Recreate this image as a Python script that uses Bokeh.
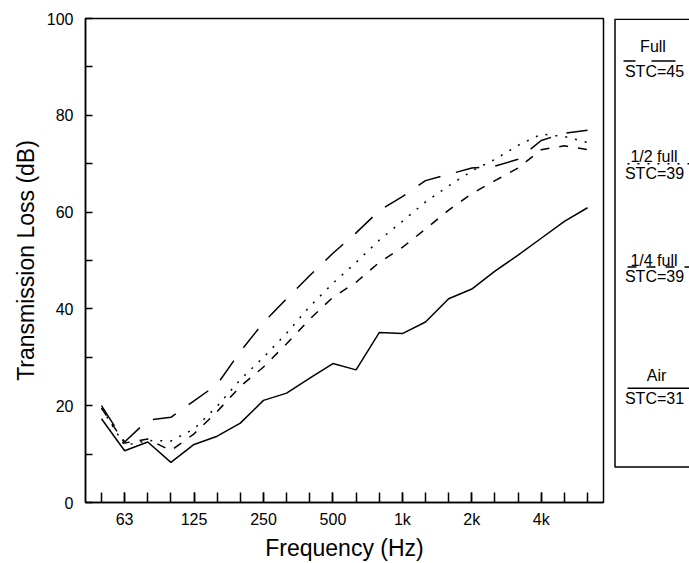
from bokeh.plotting import figure
from bokeh.models import Range1d, FixedTicker
from bokeh.layouts import row
from bokeh.embed import file_html
from bokeh.resources import INLINE
from bokeh.core.properties import value

# 1/3-octave band centre frequencies (Hz)
bands = ["50", "63", "80", "100", "125", "160", "200", "250", "315", "400", "500",
         "630", "800", "1k", "1.25k", "1.6k", "2k", "2.5k", "3.15k", "4k", "5k", "6.3k"]
labeled = ["63", "125", "250", "500", "1k", "2k", "4k"]

# Transmission loss (dB)
full = [20.0, 12.5, 17.0, 17.6, 21.0, 24.4, 31.2, 37.2, 42.1, 46.9, 51.5,
        55.7, 60.3, 63.2, 66.5, 67.8, 69.1, 69.5, 70.9, 74.8, 76.3, 76.9]
half = [19.5, 11.8, 12.8, 12.7, 15.2, 19.9, 25.4, 30.0, 35.0, 40.5, 45.3,
        49.6, 54.2, 58.1, 62.1, 65.4, 68.5, 70.9, 73.8, 76.1, 75.6, 74.4]
quarter = [19.5, 12.3, 13.1, 10.7, 14.2, 18.8, 24.0, 28.0, 32.8, 37.9, 42.4,
           45.5, 49.6, 52.7, 56.5, 60.4, 63.8, 66.5, 69.1, 72.9, 73.7, 72.9]
air = [17.3, 10.7, 12.5, 8.3, 12.0, 13.7, 16.4, 21.1, 22.6, 25.7, 28.7,
       27.4, 35.1, 34.9, 37.3, 42.1, 44.1, 47.8, 51.1, 54.6, 58.1, 60.9]

series_names = ["Full", "1/2 full", "1/4 full", "Air"]
stc_labels = ["STC=45", "STC=39", "STC=39", "STC=31"]

y_ticks = [0, 20, 40, 60, 80, 100]
y_minor = [10, 30, 50, 70, 90]

FONT = "Liberation Sans"
idx = list(range(len(bands)))

H = 563
TOP, BOTTOM = 18, 60

p = figure(width=608, height=H, output_backend="svg", toolbar_location=None,
           x_range=Range1d(-0.69, 21.69), y_range=Range1d(0, 100),
           min_border_left=85, min_border_right=5, min_border_top=TOP,
           min_border_bottom=BOTTOM)
p.grid.visible = False
p.outline_line_color = "black"
p.outline_line_width = 1.5
p.outline_line_alpha = 1.0

major_x = [i for i, b in enumerate(bands) if b in labeled]
p.xaxis.ticker = FixedTicker(ticks=major_x, minor_ticks=idx)
p.xaxis.major_label_overrides = {i: bands[i] for i in major_x}
p.xaxis.major_tick_in = 10
p.xaxis.major_tick_out = 0
p.xaxis.minor_tick_in = 10
p.xaxis.minor_tick_out = 0
p.xaxis.major_label_standoff = 8
p.xaxis.axis_label = "Frequency (Hz)"
p.xaxis.axis_label_standoff = 4

p.yaxis.ticker = FixedTicker(ticks=y_ticks, minor_ticks=y_minor)
p.yaxis.major_tick_in = 7
p.yaxis.major_tick_out = 0
p.yaxis.minor_tick_in = 7
p.yaxis.minor_tick_out = 0
p.yaxis.major_label_standoff = 12
p.yaxis.axis_label = "Transmission Loss (dB)"
p.yaxis.axis_label_standoff = 5

for ax in (p.xaxis[0], p.yaxis[0]):
    ax.axis_line_color = "black"
    ax.axis_line_width = 1.5
    ax.major_tick_line_color = "black"
    ax.major_tick_line_width = 1.5
    ax.minor_tick_line_color = "black"
    ax.minor_tick_line_width = 1.5
    ax.major_label_text_font = FONT
    ax.major_label_text_font_size = "16px"
    ax.major_label_text_color = "black"
    ax.axis_label_text_font = FONT
    ax.axis_label_text_font_size = "23px"
    ax.axis_label_text_font_style = "normal"
    ax.axis_label_text_color = "black"

styles = [dict(line_dash="24 16"), dict(line_dash="2 8"),
          dict(line_dash="9 10"), dict(line_dash="solid")]
for data, st in zip([full, half, quarter, air], styles):
    p.line(idx, data, line_color="black", line_width=1.5, **st)

# Legend panel (separate figure; its ranges are in page pixels)
p2 = figure(width=81, height=H, output_backend="svg", toolbar_location=None,
            x_range=Range1d(608, 689), y_range=Range1d(H - BOTTOM, TOP),
            min_border_left=0, min_border_right=0, min_border_top=TOP,
            min_border_bottom=BOTTOM, x_axis_location=None, y_axis_location=None)
p2.grid.visible = False
p2.outline_line_color = None
p2.quad(left=[614.5], right=[720], top=[18.75], bottom=[467.5], fill_color=None,
        line_color="black", line_width=1.5)

name_y = [46, 156.5, 261, 376]
line_y = [60.5, 163.5, 267, 388.5]
stc_y = [71, 173, 276.5, 399]
name_x = [652.5, 653.5, 653.5, 656]
p2.text(x=name_x, y=name_y, text=series_names, text_align="center",
        text_baseline="middle", text_font=value(FONT), text_font_size="16px",
        text_color="black")
p2.text(x=[654] * 4, y=stc_y, text=stc_labels, text_align="center",
        text_baseline="middle", text_font=value(FONT), text_font_size="16px",
        text_color="black")
leg_x = [[623, 676], [627, 690], [627, 690], [627, 690]]
leg_styles = [dict(line_dash="24 16", line_dash_offset=12), dict(line_dash="2 8"),
              dict(line_dash="9 10"), dict(line_dash="solid")]
for xs, ly, st in zip(leg_x, line_y, leg_styles):
    p2.line(xs, [ly, ly], line_color="black", line_width=1.5, **st)

layout = row(p, p2, spacing=0)
open("out.html", "w").write(file_html(layout, INLINE))
